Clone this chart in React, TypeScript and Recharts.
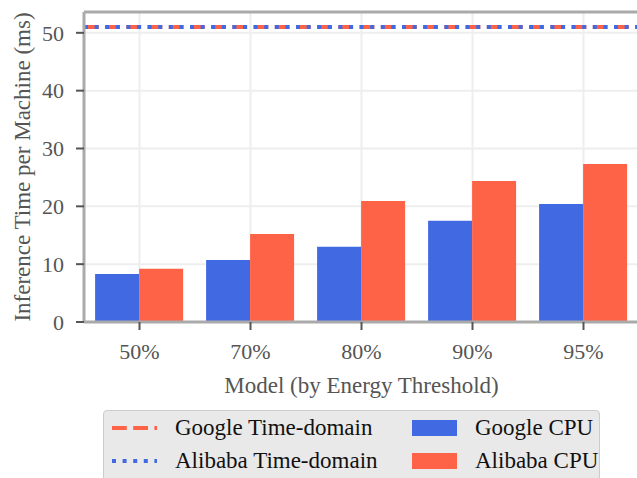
import React from 'react';
import { BarChart, Bar, XAxis, YAxis, CartesianGrid, ReferenceLine } from 'recharts';

const categories = ['50%', '70%', '80%', '90%', '95%'];
const googleCPU = [8.3, 10.7, 13.0, 17.5, 20.4];
const alibabaCPU = [9.2, 15.2, 20.9, 24.4, 27.3];
const googleTimeDomain = 51.0;
const alibabaTimeDomain = 51.0;
const yTicks = [0, 10, 20, 30, 40, 50];
const yMax = 53.6;

const BLUE = '#4169E1';
const RED = '#FF6347';
const FONT = "'Liberation Serif', 'Times New Roman', 'DejaVu Serif', serif";

const data = categories.map((c, i) => ({ name: c, google: googleCPU[i], alibaba: alibabaCPU[i] }));

const YLabel = (props: any) => {
  const vb = props.viewBox || {};
  const cx = vb.x + 22;
  const cy = vb.y + vb.height / 2;
  return (
    <text x={cx} y={cy} transform={`rotate(-90 ${cx} ${cy})`} textAnchor="middle" dominantBaseline="central"
      fill="#555" fontSize={23} fontFamily={FONT}>
      Inference Time per Machine (ms)
    </text>
  );
};

const XLabel = (props: any) => {
  const vb = props.viewBox || {};
  const cx = vb.x + vb.width / 2;
  const cy = vb.y + 71;
  return (
    <text x={cx} y={cy} textAnchor="middle" fill="#555" fontSize={23} fontFamily={FONT}>
      Model (by Energy Threshold)
    </text>
  );
};

const LegendBox = () => {
  const rowY = [18, 51];
  const textStyle: React.CSSProperties = { position: 'absolute', fontSize: 23, color: '#111', fontFamily: FONT, lineHeight: '26px', whiteSpace: 'nowrap' };
  return (
    <div style={{ position: 'absolute', left: 103, top: 410, width: 497, height: 80, background: '#e9e9e9', border: '1px solid #cccccc', borderRadius: 4, boxSizing: 'border-box' }}>
      <svg width={497} height={80} style={{ position: 'absolute', left: -1, top: -1 }}>
        <line x1={9} x2={54} y1={rowY[0]} y2={rowY[0]} stroke={RED} strokeWidth={4} strokeDasharray="14.8 6.4" />
        <line x1={9} x2={54} y1={rowY[1]} y2={rowY[1]} stroke={BLUE} strokeWidth={4} strokeDasharray="4 6.6" />
        <rect x={309} y={rowY[0] - 8} width={45} height={16} fill={BLUE} />
        <rect x={309} y={rowY[1] - 8} width={45} height={16} fill={RED} />
      </svg>
      <div style={{ ...textStyle, left: 71, top: rowY[0] - 14 }}>Google Time-domain</div>
      <div style={{ ...textStyle, left: 71, top: rowY[1] - 14 }}>Alibaba Time-domain</div>
      <div style={{ ...textStyle, left: 371, top: rowY[0] - 14 }}>Google CPU</div>
      <div style={{ ...textStyle, left: 371, top: rowY[1] - 14 }}>Alibaba CPU</div>
    </div>
  );
};

export default function App() {
  const tickStyle = { fill: '#555', fontSize: 22, fontFamily: FONT };
  return (
    <div style={{ position: 'absolute', left: 0, top: 0, width: 637, height: 478, overflow: 'hidden', background: '#fff', fontFamily: FONT }}>
      <BarChart width={640} height={478} data={data} margin={{ top: 12, right: 1, left: 0, bottom: 86 }}
        barGap={0} barCategoryGap="10%">
        <CartesianGrid stroke="#eeeeee" strokeWidth={2} />
        <XAxis dataKey="name" height={70} tick={tickStyle} tickSize={8} tickMargin={13}
          tickLine={{ stroke: '#555', strokeWidth: 2 }} axisLine={{ stroke: '#aaaaaa', strokeWidth: 3 }}
          label={<XLabel />} />
        <YAxis width={84} domain={[0, yMax]} ticks={yTicks} tick={tickStyle} tickSize={8} tickMargin={12}
          tickLine={{ stroke: '#555', strokeWidth: 2 }} axisLine={{ stroke: '#aaaaaa', strokeWidth: 3 }}
          allowDataOverflow label={<YLabel />} />
        <Bar dataKey="google" fill={BLUE} isAnimationActive={false} />
        <Bar dataKey="alibaba" fill={RED} isAnimationActive={false} />
        <ReferenceLine y={yMax} stroke="#aaaaaa" strokeWidth={3} />
        <ReferenceLine y={googleTimeDomain} stroke={RED} strokeWidth={4} strokeDasharray="14.8 6.4" />
        <ReferenceLine y={alibabaTimeDomain} stroke={BLUE} strokeWidth={4} strokeDasharray="4 6.6" />
      </BarChart>
      <LegendBox />
    </div>
  );
}
